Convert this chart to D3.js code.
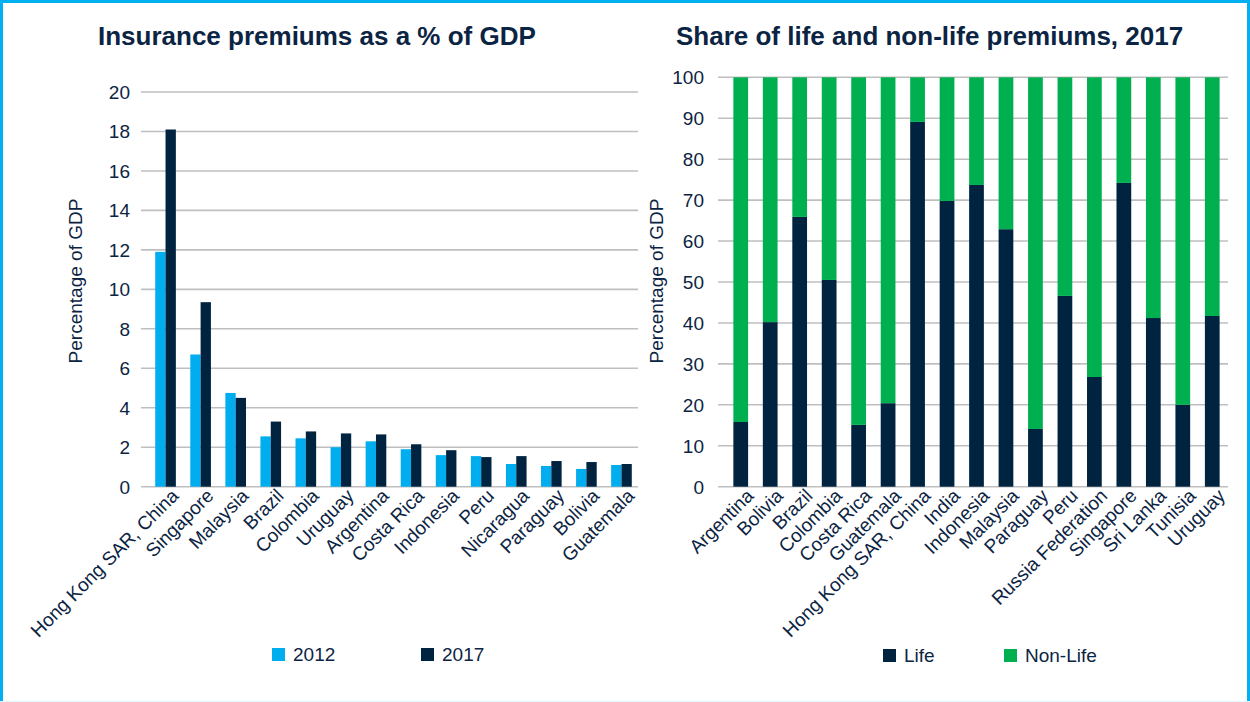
<!DOCTYPE html>
<html>
<head>
<meta charset="utf-8">
<script src="https://cdn.jsdelivr.net/npm/d3@7/dist/d3.min.js"></script>
<style>
  body { margin: 0; background: #fff; }
  svg text { font-family: "Liberation Sans", Arial, sans-serif; fill: #0c2443; }
</style>
</head>
<body>
<div id="chart"></div>
<script>
// left chart data
const premCountries = ["Hong Kong SAR, China", "Singapore", "Malaysia", "Brazil", "Colombia", "Uruguay",
  "Argentina", "Costa Rica", "Indonesia", "Peru", "Nicaragua", "Paraguay", "Bolivia", "Guatemala"];
const prem2012 = [11.9, 6.7, 4.75, 2.55, 2.45, 2.0, 2.3, 1.9, 1.6, 1.55, 1.15, 1.05, 0.9, 1.1];
const prem2017 = [18.1, 9.35, 4.5, 3.3, 2.8, 2.7, 2.65, 2.15, 1.85, 1.5, 1.55, 1.3, 1.25, 1.15];
const premTicks = [0, 2, 4, 6, 8, 10, 12, 14, 16, 18, 20];

// right chart data
const shareCountries = ["Argentina", "Bolivia", "Brazil", "Colombia", "Costa Rica", "Guatemala",
  "Hong Kong SAR, China", "India", "Indonesia", "Malaysia", "Paraguay", "Peru", "Russia Federation",
  "Singapore", "Sri Lanka", "Tunisia", "Uruguay"];
const lifeShare = [15.8, 40.2, 65.9, 50.5, 15.1, 20.4, 89.1, 69.8, 73.7, 62.9, 14.1, 46.6, 26.8, 74.2, 41.2, 20.0, 41.7];
const nonLifeShare = [84.2, 59.8, 34.1, 49.5, 84.9, 79.6, 10.9, 30.2, 26.3, 37.1, 85.9, 53.4, 73.2, 25.8, 58.8, 80.0, 58.3];
const shareTicks = [0, 10, 20, 30, 40, 50, 60, 70, 80, 90, 100];

const LIGHT = "#00adef", DARK = "#002340", GREEN = "#00b050", GRID = "#bfbfbf";

const W = 1250, H = 702;
const svg = d3.select("#chart").append("svg").attr("width", W).attr("height", H);

// frame
svg.append("line").attr("x1", 0).attr("x2", W).attr("y1", 1.5).attr("y2", 1.5).attr("stroke", "#00b0f0").attr("stroke-width", 3);
svg.append("line").attr("x1", 1.5).attr("x2", 1.5).attr("y1", 0).attr("y2", H).attr("stroke", "#00b0f0").attr("stroke-width", 3);
svg.append("line").attr("x1", W - 1.5).attr("x2", W - 1.5).attr("y1", 0).attr("y2", H).attr("stroke", "#00b0f0").attr("stroke-width", 3);
svg.append("line").attr("x1", 0).attr("x2", W).attr("y1", H - 0.5).attr("y2", H - 0.5).attr("stroke", "#dff6fd").attr("stroke-width", 1);

function yGrid(g, y, ticks, x1, x2, labelX) {
  g.selectAll("line.grid").data(ticks).join("line")
    .attr("class", "grid")
    .attr("x1", x1).attr("x2", x2)
    .attr("y1", d => y(d)).attr("y2", d => y(d))
    .attr("stroke", GRID).attr("stroke-width", 1.6);
  g.selectAll("text.tick").data(ticks).join("text")
    .attr("class", "tick")
    .attr("x", labelX).attr("y", d => y(d)).attr("dy", "0.36em")
    .attr("text-anchor", "end").style("font-size", "19px")
    .text(d => d);
}

function catLabels(g, cats, xc, baseY) {
  g.selectAll("text.cat").data(cats).join("text")
    .attr("class", "cat")
    .attr("text-anchor", "end")
    .attr("transform", d => `translate(${xc(d) + 4},${baseY}) rotate(-45)`)
    .attr("dy", "0.75em")
    .style("font-size", "19px")
    .text(d => d);
}

function legend(g, items, y) {
  items.forEach(it => {
    g.append("rect").attr("x", it.x).attr("y", y - 13).attr("width", 13).attr("height", 13).attr("fill", it.color);
    g.append("text").attr("x", it.x + 21).attr("y", y).style("font-size", "19px").text(it.label);
  });
}

// ---------- left chart ----------
const gL = svg.append("g");
gL.append("text").attr("x", 98).attr("y", 45).style("font-size", "26px").style("font-weight", "bold")
  .text("Insurance premiums as a % of GDP");

const yL = d3.scaleLinear().domain([0, 20]).range([486.7, 92]);
yGrid(gL, yL, premTicks, 141, 638, 130);

const x0 = d3.scaleBand().domain(premCountries).range([148, 639]);
const x1 = d3.scaleBand().domain(["2012", "2017"]).range([0, x0.bandwidth()]).paddingOuter(0.7);

const premRows = premCountries.map((c, i) => ({ c, vals: [{ k: "2012", v: prem2012[i] }, { k: "2017", v: prem2017[i] }] }));
gL.selectAll("g.grp").data(premRows).join("g")
  .attr("class", "grp")
  .attr("transform", d => `translate(${x0(d.c)},0)`)
  .selectAll("rect").data(d => d.vals).join("rect")
  .attr("x", d => x1(d.k))
  .attr("width", x1.bandwidth())
  .attr("y", d => yL(d.v))
  .attr("height", d => yL(0) - yL(d.v))
  .attr("fill", d => d.k === "2012" ? LIGHT : DARK);

catLabels(gL, premCountries, c => x0(c) + x0.bandwidth() / 2, 487);

gL.append("text").attr("transform", "translate(82,281) rotate(-90)").attr("text-anchor", "middle")
  .style("font-size", "19px").text("Percentage of GDP");

legend(gL, [{ x: 272, color: LIGHT, label: "2012" }, { x: 421, color: DARK, label: "2017" }], 661);

// ---------- right chart ----------
const gR = svg.append("g");
gR.append("text").attr("x", 676).attr("y", 45).style("font-size", "26px").style("font-weight", "bold")
  .text("Share of life and non-life premiums, 2017");

const yR = d3.scaleLinear().domain([0, 100]).range([486.7, 77.3]);
yGrid(gR, yR, shareTicks, 718, 1228, 704);

const xR = d3.scaleBand().domain(shareCountries).range([726, 1227]).paddingInner(0.5).paddingOuter(0.25);

const shareRows = shareCountries.map((c, i) => ({ c, Life: lifeShare[i], NonLife: nonLifeShare[i] }));
const stacked = d3.stack().keys(["Life", "NonLife"])(shareRows);
gR.selectAll("g.layer").data(stacked).join("g")
  .attr("class", "layer")
  .attr("fill", d => d.key === "Life" ? DARK : GREEN)
  .selectAll("rect").data(d => d).join("rect")
  .attr("x", d => xR(d.data.c))
  .attr("width", xR.bandwidth())
  .attr("y", d => yR(d[1]))
  .attr("height", d => yR(d[0]) - yR(d[1]));

catLabels(gR, shareCountries, c => xR(c) + xR.bandwidth() / 2, 487);

gR.append("text").attr("transform", "translate(663,281) rotate(-90)").attr("text-anchor", "middle")
  .style("font-size", "19px").text("Percentage of GDP");

legend(gR, [{ x: 883, color: DARK, label: "Life" }, { x: 1004, color: GREEN, label: "Non-Life" }], 662);
</script>
</body>
</html>
